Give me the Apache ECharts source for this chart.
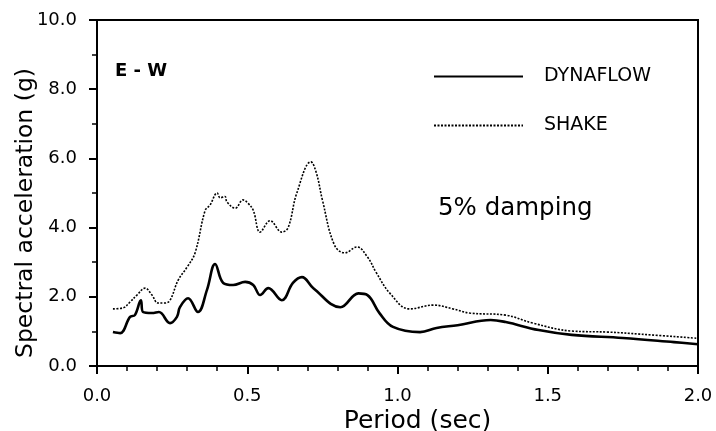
<!DOCTYPE html>
<html>
<head>
<meta charset="utf-8">
<script src="https://cdn.jsdelivr.net/npm/echarts@6/dist/echarts.min.js"></script>
<style>html,body{margin:0;padding:0;background:#fff}#c{width:716px;height:431px}</style>
</head>
<body>
<div id="c"></div>
<script>
const dynaPeriod = [0.053,0.077,0.11,0.126,0.146,0.153,0.183,0.206,0.243,0.266,0.276,0.303,0.336,0.366,0.393,0.42,0.453,0.493,0.52,0.543,0.57,0.615,0.652,0.682,0.72,0.81,0.87,0.9,0.94,0.985,1.075,1.13,1.2,1.31,1.36,1.47,1.58,1.75,1.92,2.0];
const dynaAcc = [0.98,0.95,1.42,1.47,1.9,1.56,1.53,1.56,1.24,1.42,1.7,1.96,1.56,2.2,2.95,2.4,2.34,2.43,2.34,2.05,2.25,1.9,2.4,2.57,2.25,1.7,2.1,2.05,1.53,1.13,0.98,1.1,1.18,1.33,1.27,1.04,0.9,0.81,0.69,0.63];
const shakePeriod = [0.053,0.087,0.11,0.133,0.16,0.183,0.203,0.226,0.243,0.27,0.3,0.326,0.36,0.376,0.4,0.41,0.426,0.432,0.46,0.486,0.503,0.52,0.543,0.576,0.615,0.636,0.665,0.712,0.73,0.75,0.79,0.825,0.865,0.9,0.93,0.975,1.04,1.12,1.185,1.24,1.36,1.45,1.58,1.7,1.81,2.0];
const shakeAcc = [1.65,1.68,1.85,2.05,2.25,2.05,1.82,1.82,1.9,2.48,2.86,3.26,4.5,4.65,5.0,4.86,4.9,4.75,4.56,4.8,4.7,4.5,3.87,4.2,3.87,4.0,5.0,5.9,5.58,4.8,3.5,3.27,3.44,3.15,2.69,2.1,1.65,1.76,1.65,1.53,1.47,1.24,1.01,0.98,0.92,0.8];
const seriesNames = ['DYNAFLOW','SHAKE'];
const xTitle = 'Period (sec)';
const yTitle = 'Spectral acceleration (g)';

const zip = (a,b) => a.map((v,i)=>[v,b[i]]);
const font = '"DejaVu Sans", Verdana, sans-serif';
const chart = echarts.init(document.getElementById('c'));
chart.setOption({
  animation:false,
  backgroundColor:'#fff',
  grid:{left:97,right:18,top:20,bottom:65,outerBoundsMode:'none',containLabel:false,
    show:true,borderColor:'#000',borderWidth:2,backgroundColor:'transparent'},
  xAxis:{type:'value',min:0,max:2,interval:0.5,
    name:xTitle,nameLocation:'middle',nameGap:43,nameMoveOverlap:false,
    nameTextStyle:{fontFamily:font,fontSize:25,color:'#000',padding:[0,0,0,40]},
    axisLine:{lineStyle:{color:'#000',width:2}},
    axisTick:{inside:false,length:8,lineStyle:{color:'#000',width:2}},
    minorTick:{show:true,splitNumber:5,length:5,lineStyle:{color:'#000',width:1.5}},
    splitLine:{show:false},
    axisLabel:{fontFamily:font,fontSize:18,color:'#000',margin:21,formatter:v=>v.toFixed(1)}
  },
  yAxis:{type:'value',min:0,max:10,interval:2,
    name:yTitle,nameLocation:'middle',nameGap:59,nameMoveOverlap:false,
    nameTextStyle:{fontFamily:font,fontSize:23.5,color:'#000',padding:[0,40,0,0]},
    axisLine:{lineStyle:{color:'#000',width:2}},
    axisTick:{inside:false,length:8,lineStyle:{color:'#000',width:2}},
    minorTick:{show:true,splitNumber:2,length:5,lineStyle:{color:'#000',width:1.5}},
    splitLine:{show:false},
    axisLabel:{fontFamily:font,fontSize:18,color:'#000',margin:20,formatter:v=>v.toFixed(1)}
  },
  legend:{orient:'vertical',left:428,top:62,itemWidth:89,itemHeight:20,itemGap:30,
    itemStyle:{opacity:0},
    textStyle:{fontFamily:font,fontSize:19,color:'#000',padding:[0,0,0,16]},
    data:seriesNames
  },
  graphic:[
    {type:'text',left:115,top:62,style:{text:'E - W',font:'bold 18px '+font,fill:'#000'}},
    {type:'text',left:438,top:196,style:{text:'5% damping',font:'24.5px '+font,fill:'#000'}}
  ],
  series:[
    {name:seriesNames[0],type:'line',smooth:0.4,symbol:'none',data:zip(dynaPeriod,dynaAcc),
      lineStyle:{color:'#000',width:2.6,type:'solid'},itemStyle:{color:'#000'}},
    {name:seriesNames[1],type:'line',smooth:0.4,symbol:'none',data:zip(shakePeriod,shakeAcc),
      lineStyle:{color:'#000',width:1.6,type:[2,1.5]},itemStyle:{color:'#000'}}
  ]
});
</script>
</body>
</html>
